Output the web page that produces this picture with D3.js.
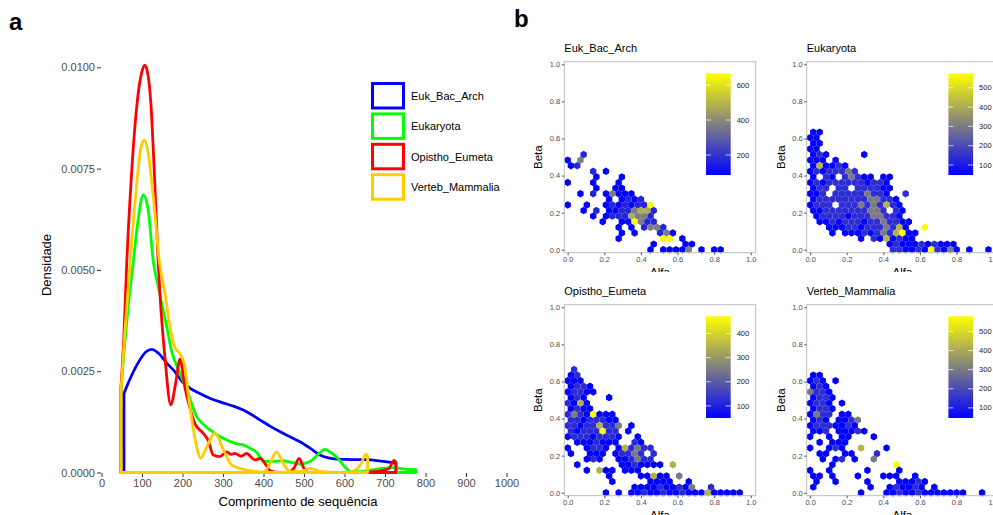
<!DOCTYPE html>
<html>
<head>
<meta charset="utf-8">
<script src="https://cdn.jsdelivr.net/npm/d3@7"></script>
<style>
  body { margin: 0; background: #fff; }
  text { font-family: "Liberation Sans", Arial, sans-serif; }
</style>
</head>
<body>
<div id="chart"></div>
<script>
// ---------- panel a: density of sequence length ----------
const seriesNames = ["Euk_Bac_Arch", "Eukaryota", "Opistho_Eumeta", "Verteb_Mammalia"];
const seriesColors = ["#0000FF", "#00FF00", "#FF0000", "#FFCC00"];
const lengthTicks = [0, 100, 200, 300, 400, 500, 600, 700, 800, 900, 1000];
const densityTicks = [0, 0.0025, 0.005, 0.0075, 0.01];

// [comprimento, densidade]
const densEukBacArch = [[55.5,0.00195],[70,0.0023],[90,0.0027],[110,0.00298],[124,0.00304],[140,0.00295],[161,0.0027],
  [180,0.0025],[199.5,0.00224],[220,0.00207],[243,0.00195],[270,0.00182],[300,0.00172],[325,0.00164],[350,0.00154],
  [370,0.00143],[391,0.0013],[415,0.00115],[440,0.00101],[465,0.00088],[490,0.00076],[515,0.0006],[539,0.00043],
  [560,0.00036],[580,0.00033],[620,0.00032],[654,0.00032],[690,0.00028],[727,0.00023]];
const densEukaryota = [[48,0.002],[55,0.0029],[65,0.004],[78.5,0.0052],[90,0.0062],[103,0.00685],[115,0.0065],
  [128,0.0052],[140,0.0046],[150,0.0041],[161,0.0036],[173,0.003],[194,0.00245],[214,0.00195],[235,0.00138],
  [250,0.0012],[268,0.00105],[290,0.0009],[309,0.0008],[330,0.00072],[350,0.00068],[370,0.00058],[383,0.0005],
  [400,0.00028],[420,0.00027],[447,0.00029],[470,0.00025],[490,0.00021],[515,0.00027],[535,0.00045],[552,0.00057],
  [565,0.0005],[580,0.00039],[600,0.00015],[616,0.00002],[640,0.00002],[660,0.00005],[690,0.0001],[720,0.00012],
  [750,0.00008],[776,0.00007]];
const densOpisthoEumeta = [[48,0.0021],[55,0.0033],[62,0.0051],[75,0.0075],[90,0.0093],[100,0.0099],[107,0.01005],
  [115,0.0098],[122,0.0091],[130,0.0075],[140,0.0052],[145,0.0043],[157,0.0028],[171,0.00167],[183,0.0022],
  [194,0.0028],[206,0.0021],[218,0.0016],[231,0.0012],[251,0.00097],[263,0.0008],[276,0.00043],[292,0.00039],
  [309,0.00051],[320,0.00045],[330,0.00047],[345,0.0004],[358,0.00047],[379,0.00031],[392,0.00035],[405,0.0002],
  [417,0.00004],[440,0],[458,0],[475,0.0001],[488,0.00035],[500,0.0001],[510,0],[560,0],[620,0],[680,0.00003],
  [710,0.0001],[722,0.0003],[727,0.00025]];
const densVertebMammalia = [[48,0.002],[58,0.0035],[70,0.0051],[85,0.0069],[97,0.008],[105.7,0.0082],[115,0.0079],
  [128,0.0068],[143,0.0052],[157,0.0044],[169,0.0036],[181,0.0031],[198,0.00286],[206,0.0026],[214,0.00195],
  [223,0.0013],[235,0.00064],[245,0.00035],[260,0.00064],[280,0.00097],[301,0.00056],[321,0.00019],[350,0.00008],
  [383,0.00002],[400,0.00001],[415,0.0002],[432,0.00051],[450,0.0002],[465,0.00002],[490,0.00002],[515,0.0001],
  [540,0.00003],[600,0],[625,0.00005],[640,0.0002],[653,0.00045],[657,0.0004]];
const densities = [densEukBacArch, densEukaryota, densOpisthoEumeta, densVertebMammalia];

// ---------- panel b: hexbin counts (rows top -> bottom, one char per column) ----------
const binAlfa = 0.0348, binBeta = 0.0302;
const axisTicksB = [0, 0.2, 0.4, 0.6, 0.8, 1.0];

const hexEukBacArch = [
  "..c", "b.g", "bc", "....c.b", "....b...b", "b...b...b", "....b..bb", "..b.c.bgbbb", "......b.bcbc",
  "b..b..bcbcbccy", "..b.c.bbccgooc", "....b.bcccoggc", ".....b..bbygcc", "........b.b.cggc",
  "........b.b...cgb", "........b......yy.b", ".............b....bb", ".............b.bbbbg.b.bb"];
const hexEukaryota = [
  "bb", "bb", "bb", "bb", "bcb.....b", "bbb.b", "bobbcb", "bcbcccgc", "b.cb.cgcbb.bb", "bcbccccccbccb",
  "bcc.cc.ccccbb", "bbc.cccccgccb..c", "bccccccccggccb", "bccc.cccgcgcocb", "bbcccccccggc.cb",
  ".bccccbcccggccb", ".bbcbcccbccgccbb", "...bbbccbcccgcob..y", "...b.bbbcbcgcoybb", "........b.cbobcbb",
  "............bcbbbcbcbbb", ".............ccbbcbycbgb.b..b"];
const hexOpisthoEumeta = [
  ".c", "bc", "bbb", "bccb", "bccbb", "bcb...b", "cbob", "bcbb", "cgcbybbb", "ccbcccbb", "ccbccoccg.b",
  "cbcccycc.b", "bcccbcccb..b", ".bbbcbbb..cb", "b..bccb.bocgcc", "b..bbb.bccgc.c", "...bcb..bbcgcc",
  ".b......bbcbbbb.o", "...b.obb.bbb", "......b....bbobb.g", ".......b.....bbbb..b",
  "..........bbbbcbbcbg..c", "......b.b.bbcbbcbbcbbbobbbbb"];
const hexVertebMammalia = [
  "bb", "bcb.b", "bcb", "gccb", "bccb", "bccb.b", "bccb", "bgcc.bb", "bcb.bbcg", "bcccbbcb", "bbc.bbbcb",
  "b..b.bb...b", ".b.bbb", "b..bcb..o...b", ".bb..bb...c", "..b.bc.b..g", "...b.........y", "b..b.....b....b",
  "bb.b...b...bbb..b", ".b..b....b....bbbcb", "b........b..bcbbcb.b", "........b...bbcbbcbbbbbbb..b"];

// contagem lida para cada nivel de cor
const levelsEukBacArch = { b: 90, c: 170, g: 370, o: 480, y: 650 };
const levelsEukaryota = { b: 52, c: 140, g: 300, o: 420, y: 565 };
const levelsOpisthoEumeta = { b: 52, c: 120, g: 250, o: 340, y: 465 };
const levelsVertebMammalia = { b: 50, c: 140, g: 300, o: 420, y: 570 };

const limitsEukBacArch = [86, 667], fillTicksEukBacArch = [200, 400, 600];
const limitsEukaryota = [48, 575], fillTicksEukaryota = [100, 200, 300, 400, 500];
const limitsOpisthoEumeta = [50, 471], fillTicksOpisthoEumeta = [100, 200, 300, 400];
const limitsVertebMammalia = [47, 579], fillTicksVertebMammalia = [100, 200, 300, 400, 500];

const svg = d3.select("#chart").append("svg")
  .attr("width", 993).attr("height", 515);

// ================= panel a =================
const xA = d3.scaleLinear().domain([0, 1000]).range([101.5, 506.5]);
const yA = d3.scaleLinear().domain([0, 0.01]).range([472.5, 67.3]);

const gA = svg.append("g");

const xAxisA = gA.append("g")
  .attr("transform", `translate(0,${yA(0) + 0.5})`)
  .call(d3.axisBottom(xA).tickValues(lengthTicks).tickSize(4).tickPadding(2).tickFormat(d3.format("d")));
const yAxisA = gA.append("g")
  .attr("transform", `translate(${xA(0) - 0.5},0)`)
  .call(d3.axisLeft(yA).tickValues(densityTicks).tickSize(4).tickPadding(2).tickFormat(d3.format(".4f")));

[xAxisA, yAxisA].forEach(ax => {
  ax.select(".domain").remove();
  ax.selectAll(".tick line").attr("stroke", "#333");
  ax.selectAll(".tick text").attr("fill", "#4D4D4D").style("font-size", "11px")
    .style("font-family", '"Liberation Sans", Arial, sans-serif');
});

const line = d3.line().x(d => xA(d[0])).y(d => yA(d[1])).curve(d3.curveMonotoneX);

densities.forEach((pts, i) => {
  const first = pts[0][0], last = pts[pts.length - 1][0];
  const p = line(pts);
  const path = `M${xA(first)},${yA(0)}L` + p.slice(1) + `L${xA(last)},${yA(0)}Z`;
  gA.append("path")
    .attr("d", path)
    .attr("fill", "none")
    .attr("stroke", seriesColors[i])
    .attr("stroke-width", 2.8)
    .attr("stroke-linejoin", "round");
});

gA.append("text")
  .attr("x", 298).attr("y", 506)
  .attr("text-anchor", "middle")
  .style("font-size", "13px")
  .text("Comprimento de sequência");

gA.append("text")
  .attr("transform", "translate(51,265) rotate(-90)")
  .attr("text-anchor", "middle")
  .style("font-size", "13px")
  .text("Densidade");

// legend
const legend = gA.append("g");
seriesNames.forEach((name, i) => {
  const yy = 83.5 + i * 30.4;
  legend.append("rect")
    .attr("x", 372.5).attr("y", yy)
    .attr("width", 31).attr("height", 24.5)
    .attr("fill", "#fff")
    .attr("stroke", seriesColors[i])
    .attr("stroke-width", 3);
  legend.append("text")
    .attr("x", 411).attr("y", yy + 12.5)
    .attr("dy", "0.35em")
    .style("font-size", "11px")
    .text(name);
});

svg.append("text").attr("x", 9).attr("y", 30)
  .style("font-size", "24px").style("font-weight", "bold").text("a");
svg.append("text").attr("x", 514).attr("y", 27)
  .style("font-size", "24px").style("font-weight", "bold").text("b");

// ================= panel b =================
const hexPanels = [
  { name: "Euk_Bac_Arch", rows: hexEukBacArch, levels: levelsEukBacArch, limits: limitsEukBacArch, ticks: fillTicksEukBacArch, col: 0, row: 0 },
  { name: "Eukaryota", rows: hexEukaryota, levels: levelsEukaryota, limits: limitsEukaryota, ticks: fillTicksEukaryota, col: 1, row: 0 },
  { name: "Opistho_Eumeta", rows: hexOpisthoEumeta, levels: levelsOpisthoEumeta, limits: limitsOpisthoEumeta, ticks: fillTicksOpisthoEumeta, col: 0, row: 1 },
  { name: "Verteb_Mammalia", rows: hexVertebMammalia, levels: levelsVertebMammalia, limits: limitsVertebMammalia, ticks: fillTicksVertebMammalia, col: 1, row: 1 }
];

const defs = svg.append("defs");

hexPanels.forEach((p, k) => {
  const ox = p.col * 242.4, oy = p.row * 243;

  defs.append("clipPath").attr("id", "clip" + k)
    .append("rect")
    .attr("x", 515 + ox).attr("y", 30 + oy)
    .attr("width", 247).attr("height", 242);

  const g = svg.append("g").attr("clip-path", `url(#clip${k})`);

  const x = d3.scaleLinear().domain([-0.0186, 1.027]).range([564.3 + ox, 755.7 + ox]);
  const y = d3.scaleLinear().domain([-0.016, 1.014]).range([252.7 + oy, 61.7 + oy]);

  const color = d3.scaleLinear()
    .domain([p.limits[0], (p.limits[0] + p.limits[1]) / 2, p.limits[1]])
    .range(["#0000FF", "#808080", "#FFFF00"])
    .interpolate(d3.interpolateRgb);

  // cells from the grid
  const cells = [];
  p.rows.forEach((str, r) => {
    const j = p.rows.length - 1 - r;
    [...str].forEach((ch, i) => {
      if (ch === ".") return;
      cells.push({ alfa: (i + (j % 2) * 0.5) * binAlfa, beta: j * binBeta, count: p.levels[ch] });
    });
  });

  const [x0, x1] = x.range();
  const [y0, y1] = y.range();

  g.append("rect")
    .attr("x", x0).attr("y", y1)
    .attr("width", x1 - x0).attr("height", y0 - y1)
    .attr("fill", "#fff");

  const hw = x(binAlfa / 2) - x(0);
  const hv = y(0) - y(binBeta / 3);
  g.selectAll(".hex")
    .data(cells)
    .enter()
    .append("path")
    .attr("class", "hex")
    .attr("d", d => {
      const cx = x(d.alfa), cy = y(d.beta);
      return `M${cx},${cy - 2 * hv}L${cx + hw},${cy - hv}L${cx + hw},${cy + hv}L${cx},${cy + 2 * hv}` +
        `L${cx - hw},${cy + hv}L${cx - hw},${cy - hv}Z`;
    })
    .attr("fill", d => color(d.count));

  g.append("rect")
    .attr("x", x0).attr("y", y1)
    .attr("width", x1 - x0).attr("height", y0 - y1)
    .attr("fill", "none")
    .attr("stroke", "#BDBDBD")
    .attr("stroke-width", 1);

  const ax = g.append("g")
    .attr("transform", `translate(0,${y0})`)
    .call(d3.axisBottom(x).tickValues(axisTicksB).tickSize(2.5).tickPadding(1.5).tickFormat(d3.format(".1f")));
  const ay = g.append("g")
    .attr("transform", `translate(${x0},0)`)
    .call(d3.axisLeft(y).tickValues(axisTicksB).tickSize(2.5).tickPadding(1.5).tickFormat(d3.format(".1f")));
  [ax, ay].forEach(a => {
    a.select(".domain").remove();
    a.selectAll(".tick line").attr("stroke", "#555");
    a.selectAll(".tick text").attr("fill", "#4D4D4D").style("font-size", "7.5px")
      .style("font-family", '"Liberation Sans", Arial, sans-serif');
  });

  g.append("text")
    .attr("x", x0).attr("y", 51.5 + oy)
    .style("font-size", "11px")
    .text(p.name);

  g.append("text")
    .attr("x", (x0 + 755.7 + ox) / 2).attr("y", 276 + oy)
    .attr("text-anchor", "middle")
    .style("font-size", "11.5px")
    .text("Alfa");

  g.append("text")
    .attr("transform", `translate(${x0 - 22},${(y0 + y1) / 2}) rotate(-90)`)
    .attr("text-anchor", "middle")
    .style("font-size", "11.5px")
    .text("Beta");

  // colour bar
  const barX = 706 + ox, barW = 24.7;
  const cb = d3.scaleLinear().domain(p.limits).range([175 + oy, 73.3 + oy]);
  const gradId = "grad" + k;
  const grad = defs.append("linearGradient").attr("id", gradId)
    .attr("x1", 0).attr("y1", 1).attr("x2", 0).attr("y2", 0);
  d3.range(0, 1.0001, 0.1).forEach(t => {
    grad.append("stop").attr("offset", t)
      .attr("stop-color", color(p.limits[0] + t * (p.limits[1] - p.limits[0])));
  });
  g.append("rect")
    .attr("x", barX).attr("y", cb(p.limits[1]))
    .attr("width", barW).attr("height", cb(p.limits[0]) - cb(p.limits[1]))
    .attr("fill", `url(#${gradId})`);
  p.ticks.forEach(t => {
    g.append("line").attr("x1", barX).attr("x2", barX + 5)
      .attr("y1", cb(t)).attr("y2", cb(t)).attr("stroke", "#fff").attr("stroke-opacity", 0.7);
    g.append("line").attr("x1", barX + barW - 5).attr("x2", barX + barW)
      .attr("y1", cb(t)).attr("y2", cb(t)).attr("stroke", "#fff").attr("stroke-opacity", 0.7);
    g.append("text")
      .attr("x", barX + barW + 6).attr("y", cb(t))
      .attr("dy", "0.35em")
      .attr("fill", "#222")
      .style("font-size", "7.5px")
      .text(t);
  });
});
</script>
</body>
</html>
